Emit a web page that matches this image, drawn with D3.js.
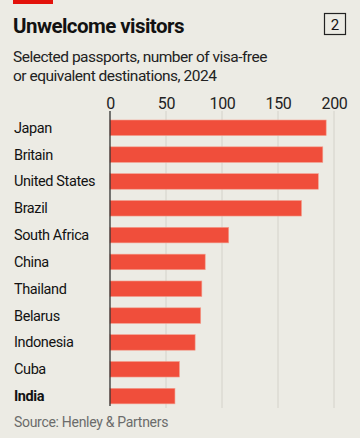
<!DOCTYPE html>
<html><head><meta charset="utf-8">
<script src="https://cdn.jsdelivr.net/npm/d3@7"></script>
<style>
html,body{margin:0;padding:0;background:#ECEBE4;}
svg{display:block;font-family:Roboto, "Liberation Sans", sans-serif;}
</style></head>
<body>
<svg id="c" width="360" height="438"></svg>
<script>
const countries = ["Japan","Britain","United States","Brazil","South Africa","China","Thailand","Belarus","Indonesia","Cuba","India"];
const destinations = [193,190,186,171,106,85,82,81,76,62,58];
const ticks = [0,50,100,150,200];
const highlight = "India";

const svg = d3.select("#c");
svg.append("rect").attr("width",360).attr("height",438).attr("fill","#ECEBE4");
svg.append("rect").attr("x",13).attr("y",0).attr("width",40).attr("height",4).attr("fill","#E3120B");

svg.append("text").attr("x",13).attr("y",33).attr("font-size",20.5).attr("font-weight",700)
  .attr("letter-spacing",-0.55).attr("fill","#121212").text("Unwelcome visitors");
svg.append("rect").attr("x",324.5).attr("y",13.5).attr("width",21).attr("height",21)
  .attr("fill","none").attr("stroke","#222").attr("stroke-width",1.2);
svg.append("text").attr("x",335).attr("y",29.5).attr("text-anchor","middle").attr("font-size",15)
  .attr("fill","#121212").text("2");
svg.append("text").attr("x",13).attr("y",62).attr("font-size",15.5).attr("letter-spacing",-0.5).attr("fill","#222")
  .text("Selected passports, number of visa-free");
svg.append("text").attr("x",13).attr("y",81).attr("font-size",15.5).attr("letter-spacing",-0.5).attr("fill","#222")
  .text("or equivalent destinations, 2024");

const x = d3.scaleLinear().domain([0,200]).range([110,334]);
const step = 26.83;
const y = d3.scaleBand().domain(countries).range([120 - 0.21*step, 120 - 0.21*step + 11*step])
  .paddingInner(0.42).paddingOuter(0.21);

const g = svg.append("g");
g.selectAll("line.grid").data(ticks.slice(1)).join("line")
  .attr("x1",d=>x(d)).attr("x2",d=>x(d)).attr("y1",111).attr("y2",408)
  .attr("stroke","#D4D2CA").attr("stroke-width",1);

const ax = d3.axisTop(x).tickValues(ticks).tickSize(0).tickPadding(0);
const axG = svg.append("g").attr("transform","translate(0,109)").call(ax);
axG.select(".domain").remove();
axG.selectAll("text").attr("font-size",16).attr("fill","#222").attr("font-family","Roboto, sans-serif")
  .attr("letter-spacing",-0.3).attr("dy","0");

g.selectAll("rect.bar").data(countries).join("rect")
  .attr("x",x(0)).attr("y",d=>y(d)).attr("height",y.bandwidth())
  .attr("width",(d,i)=>x(destinations[i])-x(0))
  .attr("fill","#F04E3B").attr("stroke","#F3A08F").attr("stroke-width",0.6);

svg.append("line").attr("x1",x(0)).attr("x2",x(0)).attr("y1",111).attr("y2",406)
  .attr("stroke","#222").attr("stroke-width",1.2);

g.selectAll("text.lab").data(countries).join("text")
  .attr("x",14).attr("y",d=>y(d)+y.bandwidth()/2+5)
  .attr("font-size",14.5).attr("letter-spacing",-0.4).attr("fill","#121212")
  .attr("font-weight",d=>d===highlight?700:400).text(d=>d);

svg.append("text").attr("x",14).attr("y",427).attr("font-size",14).attr("letter-spacing",-0.3).attr("fill","#6b6b6b")
  .text("Source: Henley & Partners");
</script>
</body></html>
